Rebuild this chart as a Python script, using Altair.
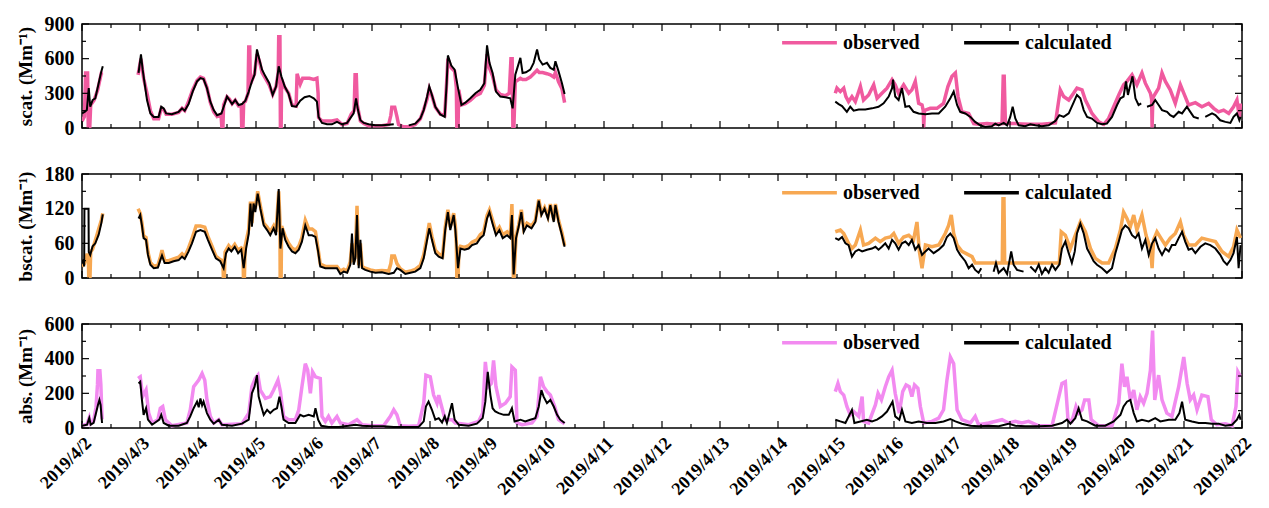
import altair as alt
import pandas as pd

FONT = "Liberation Serif"
W, H = 1160, 104

DAYS = list(range(2, 23))
SERIES_NAMES = ["observed", "calculated"]
COLORS = {"scat": "#F05A9F", "bscat": "#F7A852", "abs": "#F28AF0"}
TITLES = {"scat": "scat. (Mm⁻¹)", "bscat": "bscat. (Mm⁻¹)", "abs": "abs. (Mm⁻¹)"}

# time in hours after 2019/4/2 00:00, value in Mm^-1 ; None = data gap
SCAT_OBS = [
    (0, 60), (1, 100), (1.5, 476), (2.3, 476), (2.6, 0), (3.2, 0), (3.6, 200), (5, 240), (6.5, 330), (8, 476), (8.6, 480),
    None,
    (23.2, 460), (24.4, 600), (25.5, 430), (26.9, 300), (28.3, 150), (29.7, 80), (31.7, 80), (32.8, 170), (33.8, 160),
    (34.8, 120), (37.2, 120), (40, 135), (41.4, 170), (42.5, 150), (44.1, 230), (45.8, 330), (47.6, 410), (49, 440),
    (50.3, 430), (51.7, 350), (53.1, 220), (54.5, 140), (55.9, 100), (57.5, 120), (57.9, 0), (58.3, 0), (58.6, 200),
    (60, 270), (61, 250), (62.1, 210), (63.4, 240), (64.8, 190), (65.9, 190), (66.1, 0), (66.6, 0), (66.9, 220),
    (67.6, 230), (68.7, 300), (69, 700), (69.4, 700), (69.7, 380), (70.3, 410), (71.4, 470), (72.4, 640), (73.4, 580),
    (74.5, 480), (75.9, 430), (77.5, 370), (78.9, 290), (80.3, 360), (81.2, 480), (81.4, 790), (81.9, 790), (82.1, 0),
    (82.4, 0), (82.6, 420), (83.9, 350), (85.5, 300), (86.9, 200), (88.6, 190), (89, 470), (90.3, 380), (91.3, 430),
    (92.1, 430), (94.1, 430), (95.9, 420), (97.2, 430), (97.7, 300), (97.9, 90), (99.3, 60), (101.4, 60), (103.4, 60),
    (105.5, 70), (107.6, 30), (109.7, 40), (111.4, 120), (112.6, 150), (113, 460), (113.5, 460), (113.9, 200),
    (115.2, 60), (116.6, 40), (118.6, 20), (121.4, 20), (124.1, 20), (126.9, 30), (127.8, 110), (128.2, 180),
    (129.4, 180), (130.3, 100), (131, 30), (133, 10), (135.2, 10), (137.9, 30), (140, 80), (141.4, 160), (142.8, 250),
    (143.7, 340), (144.8, 280), (146.2, 180), (148.3, 120), (150.1, 110), (150.9, 400), (151.4, 600), (152.8, 520),
    (154.2, 490), (154.9, 350), (155.1, 0), (155.6, 0), (155.9, 330), (157, 200), (158.6, 210), (160.7, 240),
    (162.8, 280), (164.8, 300), (166.5, 370), (167.6, 640), (168.6, 520), (169.9, 450), (171.3, 330), (173.1, 290),
    (175.2, 280), (176.8, 300), (177.5, 600), (178, 600), (178.3, 0), (178.7, 0), (179.3, 400), (181.4, 430),
    (182.3, 420), (183.7, 420), (185.5, 440), (186.9, 470), (188.3, 500), (189.2, 480), (190.6, 480), (192.4, 470),
    (193.8, 460), (195.2, 440), (195.9, 480), (197.2, 400), (198.6, 340), (199.7, 220),
    None,
    (311.7, 301), (312.4, 345), (313.8, 315), (315.2, 345), (316.1, 272), (317.2, 228), (318.6, 272), (320, 228),
    (322.1, 359), (323.4, 242), (325.5, 286), (327.6, 374), (329, 257), (331, 301), (333.1, 345), (335.2, 418),
    (336.5, 374), (337.9, 301), (340, 374), (342.1, 301), (343.4, 330), (344.8, 403), (346.2, 213), (347.6, 199),
    (348.1, 150), (348.3, 5), (348.6, 150), (349, 155), (351, 170), (353.8, 170), (356.5, 213), (358.3, 359),
    (360, 447), (361.4, 476), (362.5, 272), (364.1, 140), (366.9, 126), (369, 38), (371, 32), (374.5, 38), (377.9, 32),
    (380.7, 38), (381.2, 447), (381.6, 447), (382.1, 38), (386.2, 38), (391.7, 32), (397.2, 32), (402.8, 44),
    (404.8, 330), (406.2, 272), (408.3, 242), (410.3, 301), (411.7, 345), (413.8, 330), (415.2, 242), (416.6, 184),
    (417.9, 126), (420.7, 53), (422.8, 32), (424.8, 82), (426.9, 184), (429, 286), (431, 374), (432.4, 403),
    (434.5, 461), (436.5, 374), (438.6, 476), (440, 388), (442.1, 301), (442.6, 250), (442.8, 5), (443.1, 250),
    (443.4, 272), (445.5, 345), (446.9, 476), (448.3, 403), (450.3, 330), (452.4, 213), (454.5, 374), (455.9, 301),
    (457.9, 199), (460.7, 219), (463.4, 184), (466.2, 213), (468.3, 170), (470.3, 140), (472.4, 155), (474.5, 126),
    (476.5, 184), (477.9, 242), (478.9, 96), (479.4, 213),
]

SCAT_CALC = [
    (0, 126), (1.1, 140), (2, 155), (2.8, 345), (3.4, 184), (4.4, 242), (5.5, 257), (6.9, 388), (8, 490), (8.6, 534),
    None,
    (23.4, 476), (24.4, 637), (25.1, 505), (25.9, 388), (26.9, 242), (28.3, 126), (29.7, 96), (31.7, 96), (32.8, 184),
    (33.8, 170), (34.8, 126), (37.2, 120), (40, 140), (41.4, 170), (42.5, 150), (44.1, 207), (45.8, 315), (47.6, 403),
    (49, 432), (50.3, 423), (51.7, 345), (53.1, 228), (54.5, 155), (55.9, 111), (57.7, 126), (59, 207), (60, 272),
    (61, 242), (62.1, 207), (63.4, 242), (64.8, 199), (66.2, 207), (67.6, 237), (69, 315), (70.3, 403), (71.4, 461),
    (72.4, 680), (73.4, 593), (74.5, 505), (75.9, 447), (77.5, 388), (78.9, 286), (80.3, 359), (81.4, 534),
    (82.5, 447), (83.9, 359), (85.5, 295), (86.9, 190), (88.6, 184), (90.3, 237), (92.1, 266), (94.1, 277),
    (95.9, 257), (97.2, 228), (97.9, 96), (99.3, 44), (101.4, 32), (103.4, 32), (105.5, 53), (107.6, 32), (109.7, 44),
    (111.4, 96), (112.4, 126), (113.4, 257), (114.2, 155), (115.2, 67), (116.6, 44), (118.6, 32), (121.4, 23),
    (124.1, 23), (126.9, 29), (129, 32),
    None,
    (135.2, 23), (137.9, 38), (140, 82), (141.4, 155), (142.8, 272), (143.7, 359), (144.8, 286), (146.2, 184),
    (148.3, 117), (150.1, 96), (150.9, 388), (151.4, 628), (152.8, 540), (154.2, 505), (155.6, 345), (157, 199),
    (158.6, 219), (160.7, 257), (162.8, 301), (164.8, 330), (166.5, 388), (167.6, 715), (168.6, 564), (169.9, 476),
    (171.3, 315), (173.1, 272), (175.2, 266), (177.2, 257), (178.2, 170), (179.3, 461), (181.4, 607), (182.3, 476),
    (183.7, 482), (185.5, 505), (186.9, 564), (188.3, 680), (189.2, 593), (190.6, 549), (192.4, 564), (193.8, 520),
    (195.2, 505), (195.9, 578), (197.2, 490), (198.6, 388), (199.7, 295),
    None,
    (311.7, 228), (313.1, 207), (314.5, 190), (316.5, 140), (317.9, 184), (319.3, 150), (321.4, 160), (324.1, 160),
    (326.9, 170), (329.6, 184), (331.7, 213), (333.8, 272), (335.2, 345), (335.6, 418), (336.5, 272), (337.9, 242),
    (339.3, 345), (340.7, 184), (342.3, 190), (344.1, 140), (346.2, 126), (349, 120), (351.7, 126), (354.5, 126),
    (357.2, 184), (359.3, 257), (360.7, 315), (362.1, 199), (363.4, 140), (365.5, 126), (367.6, 96), (369.6, 53),
    (371.7, 23), (373.8, 9), (376.5, 15), (377.9, 38), (379.3, 23), (381.4, 44), (382.8, 23), (384.1, 96), (385.1, 184),
    (386.2, 82), (387.6, 23), (390.3, 15), (392.4, 32), (394.5, 23), (397.2, 15), (400, 23), (402.8, 61), (404.4, 111),
    (406.2, 96), (408.3, 126), (410.3, 219), (411.7, 286), (413.1, 257), (414.5, 155), (415.9, 96), (417.9, 82),
    (420, 44), (422.1, 32), (424.1, 38), (426.2, 96), (428.3, 199), (429.7, 257), (431, 272), (432, 403), (432.8, 286),
    (433.8, 374), (434.7, 447), (435.9, 257), (437.2, 199), (438.3, 213),
    None,
    (440.7, 184), (442.8, 199), (444.1, 242), (445.5, 199), (446.9, 155), (449, 140), (450.3, 111), (451.7, 96),
    (453.8, 140), (455.2, 126), (457.2, 184), (458.6, 140), (460, 96), (462.1, 82),
    None,
    (464.8, 96), (467.6, 126), (469, 111), (471, 67), (473.1, 53), (475.2, 44), (476.5, 96), (477.9, 126), (478.9, 67),
    (479.4, 96),
]

BSCAT_OBS = [
    (0, 20), (1, 25), (2, 40), (2.6, 40), (2.8, 0), (3.3, 0), (3.6, 45), (4.4, 50), (5.5, 65), (6.9, 85), (8, 100),
    (8.6, 112),
    None,
    (23.2, 120), (24.1, 112), (24.8, 95), (25.5, 73), (26.5, 70), (27.3, 45), (28.3, 27), (29.7, 20), (31.4, 22),
    (32.4, 36), (33.1, 48), (34.2, 30), (35.9, 30), (37.9, 33), (40, 36), (41.4, 42), (42.5, 37), (44.1, 52),
    (45.5, 68), (47.2, 90), (49, 90), (50.8, 88), (52.1, 72), (53.8, 55), (55.4, 38), (57.2, 32), (58.3, 30),
    (58.5, 0), (58.9, 0), (59.2, 45), (60.7, 56), (61.8, 50), (63.2, 58), (64.6, 48), (65.9, 52), (66.6, 50),
    (66.8, 0), (67.2, 0), (67.5, 55), (69, 85), (69.7, 132), (70.3, 95), (71, 132), (71.7, 120), (72.7, 150),
    (73.8, 125), (75.2, 95), (76.6, 88), (77.9, 80), (79.3, 90), (80.3, 80), (81.4, 150), (81.9, 100), (82, 0),
    (82.4, 0), (82.6, 90), (84.1, 72), (85.5, 60), (86.9, 52), (88.3, 48), (89.7, 55), (91, 70), (92.4, 100),
    (93.8, 85), (95.2, 85), (96.6, 80), (97.7, 50), (98.6, 24), (100.7, 20), (103.4, 20), (105.5, 20), (106.9, 12),
    (108.3, 15), (109.7, 12), (111, 28), (111.7, 60), (112.4, 28), (113.1, 40), (113.8, 125), (114.5, 22),
    (115.2, 60), (115.9, 20), (117.2, 17), (119.3, 14), (121.4, 12), (124.1, 13), (126.9, 12), (127.8, 25),
    (128.2, 38), (129.3, 38), (130.3, 25), (131.7, 16), (133.8, 10), (135.9, 12), (137.9, 15), (140, 22), (141.4, 40),
    (142.8, 72), (143.7, 95), (144.8, 72), (146.2, 48), (147.6, 42), (149.2, 38), (150.3, 88), (151.4, 118),
    (152.4, 88), (153.8, 112), (154.5, 90), (154.9, 60), (155.1, 0), (155.6, 0), (156, 50), (156.6, 55), (158.3, 53),
    (160, 56), (161.4, 62), (163.4, 66), (164.8, 75), (166.2, 80), (167.6, 108), (168.6, 118), (169.9, 100),
    (171.3, 80), (172.7, 88), (174.1, 75), (175.9, 80), (177.2, 74), (177.9, 128), (178.3, 60), (178.5, 0),
    (178.8, 0), (179.6, 72), (180.7, 92), (181.8, 118), (182.8, 85), (184.1, 95), (186, 90), (187.6, 100), (189, 136),
    (190.1, 112), (191.4, 122), (192.8, 106), (193.8, 128), (195.2, 100), (195.9, 128), (197.2, 100), (198.6, 78),
    (199.7, 56),
    None,
    (311.7, 80), (313.8, 83), (315.2, 77), (317.2, 60), (318.6, 51), (320, 57), (322.1, 83), (323.4, 57), (325.5, 60),
    (328.3, 69), (330.3, 63), (332.4, 69), (334.5, 71), (335.9, 77), (337.9, 60), (340, 71), (342.1, 74), (344.1, 66),
    (345.5, 97), (346.5, 46), (347.6, 17), (349, 57), (351.7, 54), (354.5, 57), (357.2, 77), (358.6, 91),
    (359.7, 109), (360.7, 77), (362.1, 57), (364.1, 46), (366.9, 40), (368.3, 37), (369.6, 26), (378, 26), (380, 26),
    (380.8, 26), (381.1, 137), (381.5, 137), (381.8, 26), (389, 26), (395.9, 26), (402.8, 26), (404.4, 26),
    (405.2, 80), (406.9, 74), (409, 51), (411, 74), (413.1, 97), (415.2, 80), (417.3, 51), (419.3, 34), (422.1, 26),
    (424.8, 26), (427.6, 51), (429.7, 83), (431, 114), (432.4, 103), (433.8, 89), (435.2, 109), (436.5, 83),
    (438.6, 109), (440.3, 74), (442.1, 51), (442.8, 17), (443.4, 66), (444.8, 80), (446.9, 66), (448.3, 57),
    (450.3, 69), (452.4, 77), (454.5, 97), (455.9, 74), (457.9, 57), (460.7, 57), (463.4, 69), (466.2, 66), (469, 63),
    (471.7, 46), (474.5, 37), (476.5, 54), (477.9, 83), (479.4, 69),
]

BSCAT_CALC = [
    (0, 25), (0.5, 30), (0.9, 20), (1, 120), (2.7, 120), (2.8, 45), (3.4, 40), (4.4, 55), (5.5, 60), (6.9, 75),
    (8, 95), (8.6, 110),
    None,
    (23.4, 103), (24.1, 109), (24.8, 91), (25.5, 69), (26.5, 66), (27.3, 40), (28.3, 23), (29.7, 17), (31.4, 18),
    (32.4, 31), (33.1, 39), (34.2, 26), (35.9, 26), (37.9, 29), (40, 31), (41.4, 37), (42.5, 33), (44.1, 46),
    (45.5, 60), (47.2, 80), (49, 83), (50.8, 80), (52.1, 66), (53.8, 49), (55.4, 34), (57.2, 29), (58.6, 17),
    (59.6, 43), (60.7, 51), (61.8, 46), (63.2, 54), (64.6, 43), (65.9, 49), (66.9, 17), (67.9, 51), (69, 77),
    (69.7, 129), (70.3, 89), (71, 129), (71.7, 114), (72.7, 146), (73.8, 120), (75.2, 91), (76.6, 83), (77.9, 74),
    (79.3, 86), (80.3, 74), (81.4, 154), (82.1, 51), (83, 86), (84.1, 66), (85.5, 54), (86.9, 46), (88.3, 43),
    (89.7, 49), (91, 63), (92.4, 91), (93.8, 74), (95.2, 74), (96.6, 71), (97.7, 46), (98.6, 20), (100.7, 17),
    (103.4, 17), (105.5, 17), (106.9, 7), (108.3, 11), (109.7, 9), (111, 23), (111.7, 77), (112.4, 23), (113.1, 34),
    (113.8, 109), (114.5, 17), (115.2, 66), (115.9, 17), (117.2, 14), (119.3, 11), (121.4, 9), (124.1, 10),
    (126.9, 7), (129, 9), (130.3, 17), (131.7, 14), (133.8, 7), (135.9, 9), (137.9, 11), (140, 17), (141.4, 34),
    (142.8, 66), (143.7, 86), (144.8, 66), (146.2, 43), (147.6, 37), (149.2, 34), (150.3, 83), (151.4, 114),
    (152.4, 83), (153.8, 109), (154.5, 83), (155.6, 17), (156.6, 51), (158.3, 49), (160, 51), (161.4, 57), (163.4, 60),
    (164.8, 69), (166.2, 74), (167.6, 103), (168.6, 114), (169.9, 94), (171.3, 74), (172.7, 83), (174.1, 69),
    (175.9, 74), (177.2, 69), (177.9, 109), (178.6, 6), (179.6, 69), (180.7, 89), (181.8, 114), (182.8, 80),
    (184.1, 91), (186, 86), (187.6, 97), (189, 134), (190.1, 109), (191.4, 120), (192.8, 103), (193.8, 126),
    (195.2, 97), (195.9, 126), (197.2, 97), (198.6, 74), (199.7, 54),
    None,
    (311.7, 69), (313.1, 66), (314.5, 71), (315.9, 60), (317.2, 57), (318.6, 37), (320, 46), (321.4, 49), (322.8, 46),
    (324.8, 49), (326.9, 51), (328.3, 54), (329.6, 49), (331, 54), (332.4, 60), (333.8, 51), (335.2, 66), (336.5, 60),
    (337.9, 49), (339.3, 60), (340.7, 63), (342.1, 57), (343.4, 66), (344.8, 49), (346.2, 57), (347.6, 40), (349, 46),
    (350.3, 51), (352.4, 43), (354.5, 49), (356.5, 57), (357.9, 71), (359.3, 77), (360.7, 69), (362.1, 49),
    (363.4, 40), (365.5, 29), (366.9, 17), (368.3, 23), (369.6, 14), (371, 9), (372.1, 17),
    None,
    (377.2, 11), (378.2, 26), (379.3, 9), (381.4, 17), (382.8, 7), (384.5, 46), (385.5, 23), (386.9, 14), (389.6, 11),
    None,
    (392.4, 20), (394.5, 11), (395.9, 23), (397.2, 7), (398.6, 17), (400, 9), (401.4, 23), (402.8, 14), (404.4, 23),
    (405.5, 51), (406.9, 63), (408.3, 43), (409.6, 26), (410.8, 46), (411.7, 77), (413.1, 94), (414.5, 77),
    (415.9, 51), (417.3, 40), (418.6, 29), (420, 23), (422.1, 17), (424.1, 9), (426.2, 17), (427.6, 43), (429, 63),
    (430.3, 83), (431.7, 91), (433.1, 86), (434.5, 74), (435.9, 69), (437.2, 77), (438.6, 51), (440, 66), (441.4, 40),
    (442.8, 60), (444.1, 69), (445.5, 51), (446.9, 40), (448.3, 51), (449.7, 46), (451, 57), (452.4, 57), (453.8, 69),
    (455.2, 80), (456.5, 63), (457.9, 49), (459.3, 51), (460.7, 43), (462.8, 54), (464.8, 60), (466.9, 57), (469, 51),
    (471, 40), (472.4, 29), (473.8, 23), (475.2, 31), (476.5, 43), (477.9, 71), (478.6, 17), (479.4, 57),
]

ABS_OBS = [
    (0, 15), (2, 20), (3, 60), (3.6, 25), (4.8, 40), (5.8, 120), (6.4, 250), (6.6, 330), (7.4, 330), (7.8, 250),
    (8.3, 50),
    None,
    (23.2, 286), (24.1, 295), (25.1, 181), (26.5, 219), (27.6, 86), (29, 29), (31.4, 48), (32.4, 114), (33.4, 124),
    (34.5, 48), (37.2, 13), (43.4, 29), (44.8, 105), (46.2, 238), (48.3, 276), (49.7, 314), (50.8, 276), (51.7, 162),
    (53.1, 67), (54.5, 29), (56.6, 48), (57.9, 19), (66.2, 25), (69, 86), (70.3, 238), (71.7, 286), (72.8, 305),
    (73.8, 219), (75.9, 171), (77.9, 181), (79.3, 219), (81.1, 276), (82.1, 210), (83.4, 67), (85.5, 48), (88.3, 48),
    (89.7, 105), (91, 238), (92.4, 371), (93.4, 333), (94.5, 200), (95.4, 324), (96.6, 295), (98.6, 286), (99.3, 67),
    (100.7, 38), (102, 67), (103.4, 29), (105.5, 67), (106.9, 29), (110.3, 19), (113.8, 48), (115.9, 19), (120, 13),
    (124.8, 13), (127.6, 67), (129, 105), (130.3, 76), (131.7, 13), (135.2, 10), (139.3, 13), (141.4, 143),
    (142.3, 305), (144.1, 295), (145.5, 190), (146.9, 143), (147.6, 190), (149, 114), (150.3, 48), (153.1, 48),
    (154.5, 29), (160, 19), (164.1, 38), (165.8, 86), (166.9, 381), (168, 238), (169.4, 257), (170.3, 390),
    (171.3, 238), (173.1, 124), (175.2, 143), (177.2, 181), (177.9, 352), (179.3, 333), (180, 29), (182.1, 19),
    (186.2, 29), (188.3, 67), (189.7, 295), (191, 238), (192.4, 210), (193.8, 190), (195.6, 124), (197.2, 48),
    (199.7, 25),
    None,
    (311.7, 210), (312.8, 257), (313.8, 210), (315.2, 190), (316.5, 124), (317.9, 76), (319.3, 95), (321.4, 67),
    (322.8, 181), (323.4, 38), (325.5, 29), (328.3, 133), (329.4, 200), (330.8, 162), (332.4, 238), (333.8, 295),
    (335.2, 333), (336.5, 200), (338.2, 86), (339.6, 210), (341, 248), (342.3, 238), (343.4, 181), (344.5, 248),
    (345.9, 229), (346.9, 124), (348.3, 29), (351.7, 38), (354.5, 57), (356.5, 105), (357.9, 276), (359.3, 410),
    (360.7, 371), (362.1, 105), (364.1, 48), (367.6, 29), (369.6, 67), (371, 19), (375.2, 29), (380.7, 48),
    (383.4, 29), (386.2, 38), (388.9, 29), (391.7, 38), (395.9, 13), (401.4, 13), (405.5, 257), (406.9, 267),
    (408, 48), (409.6, 38), (411.3, 124), (412.4, 86), (413.8, 105), (414.9, 162), (416.6, 162), (417.6, 48),
    (420.7, 13), (426.2, 13), (429, 143), (430.3, 371), (431.4, 238), (432.4, 295), (433.8, 162), (435.2, 219),
    (436.5, 105), (437.9, 181), (439.3, 143), (440.7, 200), (442.1, 333), (443, 562), (443.9, 162), (445.5, 305),
    (446.9, 162), (448.9, 86), (451, 67), (453.8, 238), (455.9, 410), (457.3, 257), (458.6, 162), (460, 190),
    (461.4, 105), (463.4, 190), (465.9, 181), (467.3, 48), (469.6, 19), (473.1, 25), (475.9, 13), (477.5, 124),
    (478.3, 324), (479.4, 295),
]

ABS_CALC = [
    (0, 13), (2.1, 19), (3, 57), (3.6, 19), (4.8, 29), (5.8, 86), (6.6, 133), (7.2, 162), (7.7, 133), (8.3, 29),
    None,
    (23.4, 257), (24.1, 267), (24.8, 162), (25.5, 76), (26.5, 114), (27.3, 48), (29, 19), (32, 48), (32.8, 76),
    (33.8, 29), (35.9, 13), (40, 13), (43.4, 29), (44.8, 67), (46.2, 114), (47.6, 152), (48.3, 120), (49, 171),
    (49.7, 130), (50.3, 152), (51.7, 86), (53.1, 48), (54.5, 25), (56.6, 48), (57.9, 19), (62.1, 13), (66.2, 25),
    (69, 48), (70.3, 200), (71.4, 238), (72.4, 305), (73.1, 181), (74.2, 124), (75.2, 76), (76.6, 105), (77.9, 86),
    (79.3, 105), (80.7, 114), (81.7, 181), (82.5, 124), (83.4, 48), (85.5, 29), (88.3, 29), (90.3, 76), (91.7, 67),
    (93.8, 76), (95.9, 67), (96.6, 114), (97.7, 48), (99, 13), (102, 6), (106.2, 6), (110.3, 13), (113.1, 19),
    (115.9, 13), (120, 10), (124.8, 10), (129, 6), (133.8, 6), (139.3, 6), (141.4, 38), (142.3, 124), (143.4, 152),
    (144.8, 105), (146.2, 48), (147.6, 57), (149, 32), (150.1, 67), (151, 29), (153.1, 143), (154.2, 48), (155.9, 19),
    (160, 13), (163.4, 25), (165.8, 57), (166.9, 152), (167.9, 324), (169, 190), (169.9, 114), (171, 95), (172.4, 86),
    (174.5, 76), (176.6, 76), (177.9, 114), (179, 38), (181.4, 48), (183.4, 38), (185.5, 48), (187.6, 57), (189, 124),
    (190.1, 219), (191, 181), (192.4, 143), (193.8, 162), (195.2, 124), (196.6, 76), (197.9, 48), (199.7, 29),
    None,
    (311.7, 48), (313.8, 38), (315.9, 29), (318.6, 105), (319.6, 29), (322.1, 38), (324.8, 48), (326.9, 38), (329, 48),
    (331, 67), (333.1, 95), (335.4, 152), (336.5, 67), (338.2, 48), (339.3, 105), (340.7, 38), (343.4, 29), (346.2, 38),
    (349.6, 29), (353.1, 29), (356.5, 38), (359.3, 51), (361.4, 38), (364.1, 25), (367.6, 13), (371, 10), (375.2, 13),
    (379.3, 10), (383.4, 25), (386.2, 13), (390.3, 10), (395.9, 10), (401.4, 13), (405.5, 29), (407.6, 48), (409, 25),
    (411, 57), (412.4, 114), (413.8, 48), (415.9, 38), (419.3, 13), (423.4, 13), (426.9, 38), (429.7, 76), (431, 124),
    (432.4, 152), (433.8, 162), (435.2, 86), (436.5, 38), (438.6, 48), (441.4, 38), (444.1, 57), (446.2, 38),
    (449.7, 48), (452.4, 48), (454.1, 86), (455.2, 152), (456.5, 48), (459.3, 38), (462.1, 29), (464.8, 29),
    (467.6, 25), (470.3, 25), (473.1, 13), (475.9, 19), (477.9, 48), (478.9, 76), (479.4, 48),
]

Y_MAJOR = {"scat": [0, 300, 600, 900], "bscat": [0, 60, 120, 180], "abs": [0, 200, 400, 600]}
Y_MINOR = {"scat": [150, 450, 750], "bscat": [30, 90, 150], "abs": [100, 300, 500]}


def rows(series, name):
    out = []
    seg = 0
    base = pd.Timestamp("2019-04-02 00:00:00")
    for p in series:
        if p is None:
            seg += 1
            continue
        t, v = p
        ts = base + pd.Timedelta(minutes=round(t * 60))
        out.append({"time": ts.strftime("%Y-%m-%dT%H:%M:%S"), "value": v,
                    "series": name, "seg": f"{name}-{seg}"})
    return out


def dt(d, h=0):
    return alt.DateTime(year=2019, month=4, date=d, hours=h)


MAJOR_X = pd.DataFrame({"time": [f"2019-04-{d:02d}T00:00:00" for d in DAYS]})
MINOR_X = pd.DataFrame({"time": [f"2019-04-{d:02d}T12:00:00" for d in DAYS[:-1]]})


def panel(key, obs, calc, show_x):
    df = pd.DataFrame(rows(obs, "observed") + rows(calc, "calculated"))
    ymax = Y_MAJOR[key][-1]
    xscale = alt.Scale(domain=[dt(2), dt(22)])
    if show_x:
        xaxis = alt.Axis(values=[dt(d) for d in DAYS], format="%Y/%-m/%-d", labelAngle=315,
                         labelFontSize=18, labelPadding=6, labelFlush=False, labelOverlap=False)
    else:
        xaxis = None
    x = alt.X("time:T", scale=xscale, axis=xaxis, title=None)
    y = alt.Y("value:Q", scale=alt.Scale(domain=[0, ymax], nice=False),
              axis=alt.Axis(values=Y_MAJOR[key], labelFontSize=20, labelPadding=8,
                            title=TITLES[key], titleFontSize=19, titlePadding=9))
    color = alt.Color("series:N",
                      scale=alt.Scale(domain=SERIES_NAMES, range=[COLORS[key], "#000000"]),
                      legend=alt.Legend(orient="none", legendX=698, legendY=-11, direction="horizontal",
                                        title=None, symbolType="stroke", symbolSize=3000,
                                        symbolStrokeWidth=3.5, labelFont=FONT, labelFontSize=20,
                                        labelFontWeight="bold", labelColor="black", labelOffset=4,
                                        columnPadding=37, padding=0))
    base = alt.Chart(df)
    obs_line = base.transform_filter(alt.datum.series == "observed").mark_line(
        strokeWidth=3.5, clip=True).encode(x=x, y=y, color=color, detail="seg:N")
    calc_line = base.transform_filter(alt.datum.series == "calculated").mark_line(
        strokeWidth=2.0, clip=True).encode(x=x, y=y, color=color, detail="seg:N")

    layers = [obs_line, calc_line]
    for dfx, ln in ((MAJOR_X, 7), (MINOR_X, 4)):
        layers.append(alt.Chart(dfx).mark_rule(color="black", strokeWidth=1.2).encode(
            x=x, y=alt.value(0), y2=alt.value(ln)))
        layers.append(alt.Chart(dfx).mark_rule(color="black", strokeWidth=1.2).encode(
            x=x, y=alt.value(H), y2=alt.value(H - ln)))
    for vals, ln in ((Y_MAJOR[key], 7), (Y_MINOR[key], 4)):
        dfy = pd.DataFrame({"value": vals})
        layers.append(alt.Chart(dfy).mark_rule(color="black", strokeWidth=1.2).encode(
            y=y, x=alt.value(0), x2=alt.value(ln)))
        layers.append(alt.Chart(dfy).mark_rule(color="black", strokeWidth=1.2).encode(
            y=y, x=alt.value(W), x2=alt.value(W - ln)))
    return alt.layer(*layers).properties(width=W, height=H)


chart = alt.vconcat(
    panel("scat", SCAT_OBS, SCAT_CALC, False),
    panel("bscat", BSCAT_OBS, BSCAT_CALC, False),
    panel("abs", ABS_OBS, ABS_CALC, True),
    spacing=46, bounds="flush",
).resolve_scale(color="independent").configure_view(
    stroke="black", strokeWidth=1.5
).configure_axis(
    grid=False, ticks=False, domain=False, labelFont=FONT, labelFontWeight="bold",
    labelColor="black", titleFont=FONT, titleFontWeight="bold", titleColor="black"
).properties(padding={"left": 15, "top": 12, "right": 5, "bottom": 2}, background="white")

chart.save("out.html", embed_options={"renderer": "svg", "actions": False})
